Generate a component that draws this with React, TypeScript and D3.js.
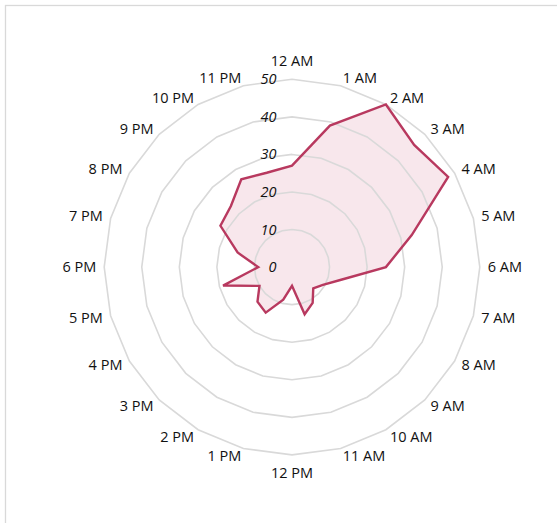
import React from "react";
import * as d3 from "d3";

const hours = [
  "12 AM", "1 AM", "2 AM", "3 AM", "4 AM", "5 AM", "6 AM", "7 AM", "8 AM", "9 AM", "10 AM", "11 AM",
  "12 PM", "1 PM", "2 PM", "3 PM", "4 PM", "5 PM", "6 PM", "7 PM", "8 PM", "9 PM", "10 PM", "11 PM",
];
const values = [27, 39, 50, 46, 48, 33, 25, 13.3, 9.5, 8, 11, 13, 5, 9, 14, 13, 10, 19, 9, 15, 22, 23, 27, 26];
const ticks = [0, 10, 20, 30, 40, 50];

const W = 557;
const H = 523;
const cx = 292;
const cy = 267.1;
const R = 187.8;
const LINE = "#B8395F";
const FILL = "#F8E7EC";
const GRID = "#D9D9D9";
const FONT = "'Open Sans', 'Liberation Sans', Arial, sans-serif";

export default function App() {
  const r = d3.scaleLinear().domain([0, 50]).range([0, R]);
  const step = (2 * Math.PI) / hours.length;
  const angle = (i: number) => i * step;

  const ring = d3
    .lineRadial<number>()
    .angle((_, i) => angle(i))
    .radius((d) => r(d))
    .curve(d3.curveLinearClosed);

  const dataPath = ring(values) || "";

  return (
    <svg width={W} height={H} style={{ position: "absolute", left: 0, top: 0, background: "#fff" }}>
      <rect x={5.5} y={5.5} width={W + 10} height={H + 10} fill="#fff" stroke={GRID} strokeWidth={1.3} />
      <g transform={`translate(${cx},${cy})`}>
        <path d={dataPath} fill={FILL} stroke="none" />
        {ticks.slice(1).map((t) => (
          <path key={t} d={ring(hours.map(() => t)) || ""} fill="none" stroke={GRID} strokeWidth={1.6} />
        ))}
        <path d={dataPath} fill="none" stroke={LINE} strokeWidth={2.4} strokeLinejoin="miter" />
        {ticks.map((t) => (
          <text
            key={t}
            x={-15.5}
            y={-r(t) + 5}
            textAnchor="end"
            fontFamily={FONT}
            fontSize={14.5}
            fontStyle="italic"
            fill="#111"
          >
            {t}
          </text>
        ))}
        {hours.map((h, i) => {
          const a = angle(i);
          const s = Math.sin(a);
          const c = Math.cos(a);
          const d = R + 8;
          const x = d * s;
          const y = -d * c;
          let anchor: "start" | "end" | "middle" = "middle";
          let dy = 5;
          if (s > 0.01) anchor = "start";
          else if (s < -0.01) anchor = "end";
          else if (c > 0) dy = -5;
          else dy = 15.3;
          return (
            <text
              key={h}
              x={x}
              y={y + dy}
              textAnchor={anchor}
              fontFamily={FONT}
              fontSize={14.5}
              fill="#111"
            >
              {h}
            </text>
          );
        })}
      </g>
    </svg>
  );
}
